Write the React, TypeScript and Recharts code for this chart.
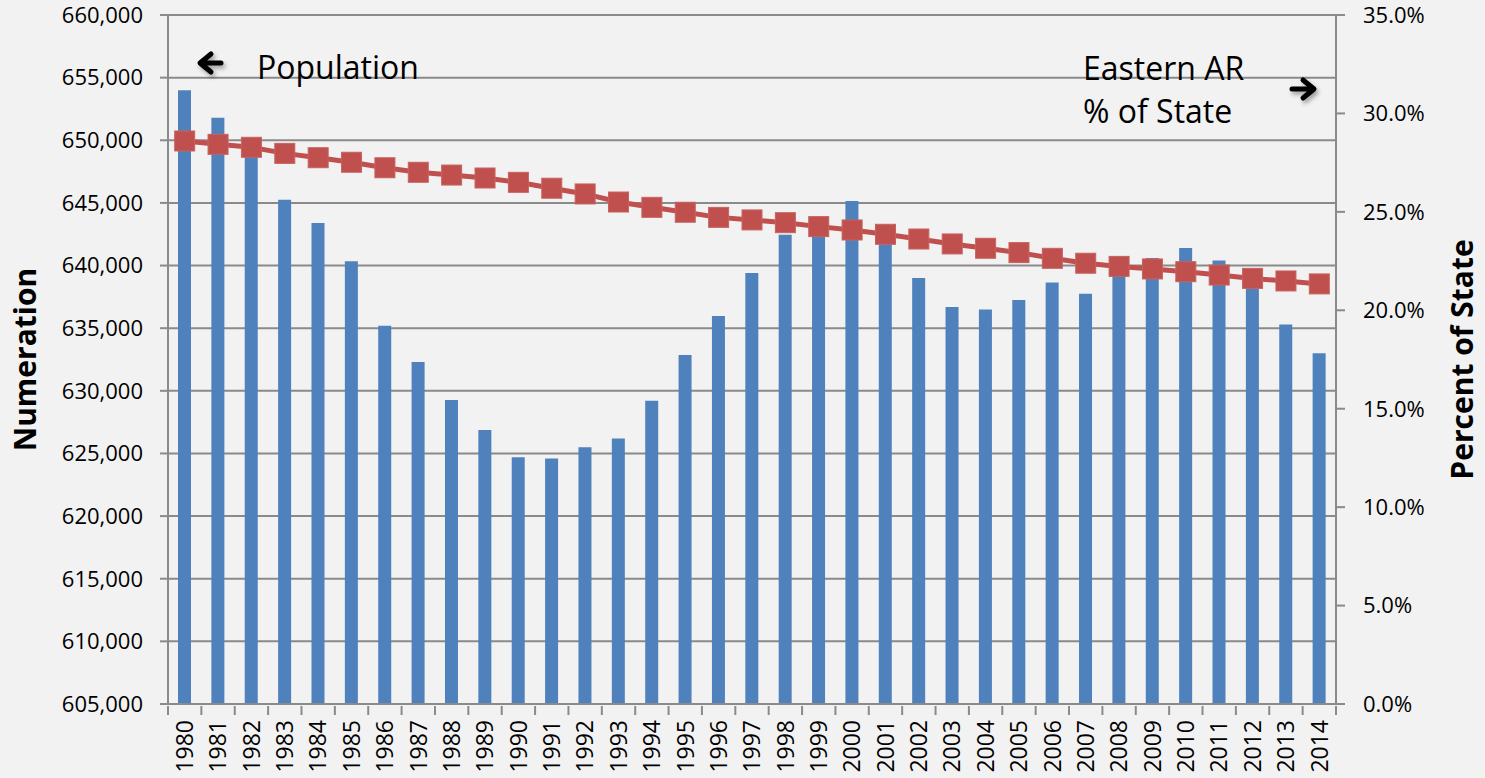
import React from "react";
import { ComposedChart, Bar, Line, XAxis, YAxis, CartesianGrid } from "recharts";

const years = [
  "1980", "1981", "1982", "1983", "1984", "1985", "1986", "1987", "1988", "1989",
  "1990", "1991", "1992", "1993", "1994", "1995", "1996", "1997", "1998", "1999",
  "2000", "2001", "2002", "2003", "2004", "2005", "2006", "2007", "2008", "2009",
  "2010", "2011", "2012", "2013", "2014",
];

const population = [
  654000, 651800, 649400, 645250, 643400, 640350, 635200, 632300, 629270, 626870,
  624700, 624600, 625500, 626200, 629200, 632850, 635970, 639400, 642450, 643000,
  645150, 642300, 639000, 636700, 636500, 637250, 638650, 637750, 639800, 640600,
  641400, 640400, 638900, 635300, 633000,
];

const percentOfState = [
  28.6, 28.43, 28.28, 27.97, 27.75, 27.52, 27.24, 27.01, 26.87, 26.72,
  26.5, 26.2, 25.91, 25.5, 25.23, 24.98, 24.72, 24.59, 24.45, 24.25,
  24.08, 23.86, 23.62, 23.37, 23.15, 22.93, 22.64, 22.39, 22.23, 22.1,
  21.96, 21.79, 21.62, 21.49, 21.34,
];

const leftTicks = [605000, 610000, 615000, 620000, 625000, 630000, 635000, 640000, 645000, 650000, 655000, 660000];
const rightTicks = [0, 5, 10, 15, 20, 25, 30, 35];

const data = years.map((year, i) => ({
  year,
  population: population[i],
  pct: percentOfState[i],
}));

const FONT = "'Open Sans', 'DejaVu Sans', sans-serif";
const GRID = "#8a8a8a";
const BLUE = "#4f81bd";
const RED = "#c0504d";

const YearTick = (props: any) => {
  const { x, y, payload, index } = props;
  const half = payload && payload.offset ? payload.offset : 0;
  return (
    <g>
      <line x1={x - half} y1={y} x2={x - half} y2={y + 9} stroke={GRID} strokeWidth={2} />
      {index === years.length - 1 && (
        <line x1={x + half} y1={y} x2={x + half} y2={y + 9} stroke={GRID} strokeWidth={2} />
      )}
      <text
        x={x}
        y={y + 14}
        transform={`rotate(-90, ${x}, ${y + 14})`}
        textAnchor="end"
        dy="0.36em"
        fontSize={23}
        fontFamily={FONT}
        fill="#000"
      >
        {payload.value}
      </text>
    </g>
  );
};

const SquareDot = (props: any) => {
  const { cx, cy } = props;
  if (cx == null || cy == null) return null;
  return <rect x={cx - 10} y={cy - 10} width={20} height={20} fill={RED} stroke="#c8625f" strokeWidth={1} />;
};

const App = () => {
  return (
    <div style={{ position: "absolute", left: 0, top: 0, width: 1485, height: 778, background: "#f2f2f2", fontFamily: FONT }}>
      <ComposedChart width={1485} height={778} data={data} margin={{ top: 15, right: 0, bottom: 0, left: 0 }}>
        <CartesianGrid yAxisId="left" vertical={false} stroke={GRID} strokeWidth={2} />
        <XAxis
          dataKey="year"
          height={74}
          tickSize={0}
          tickLine={false}
          interval={0}
          axisLine={{ stroke: GRID, strokeWidth: 2 }}
          tick={<YearTick />}
        />
        <YAxis
          yAxisId="left"
          width={168}
          domain={[605000, 660000]}
          ticks={leftTicks}
          interval={0}
          tickSize={8}
          tickMargin={17}
          tick={{ fontSize: 22, fill: "#000", fontFamily: FONT }}
          tickLine={{ stroke: GRID, strokeWidth: 2 }}
          axisLine={{ stroke: GRID, strokeWidth: 2 }}
          tickFormatter={(v: number) => v.toLocaleString("en-US")}
          label={{
            content: (p: any) => {
              const vb = p.viewBox;
              const cy = vb.y + vb.height / 2;
              return (
                <text x={25} y={cy} transform={`rotate(-90, 25, ${cy})`} textAnchor="middle" dy="0.36em" fontSize={30} fontWeight="bold" fontFamily={FONT} fill="#000">
                  Numeration
                </text>
              );
            },
          }}
        />
        <YAxis
          yAxisId="right"
          orientation="right"
          width={149}
          domain={[0, 35]}
          ticks={rightTicks}
          interval={0}
          tickSize={9}
          tickMargin={18}
          tick={{ fontSize: 22, fill: "#000", fontFamily: FONT }}
          tickLine={{ stroke: GRID, strokeWidth: 2 }}
          axisLine={{ stroke: GRID, strokeWidth: 2 }}
          tickFormatter={(v: number) => v.toFixed(1) + "%"}
          label={{
            content: (p: any) => {
              const vb = p.viewBox;
              const cy = vb.y + vb.height / 2;
              const cx = vb.x + 126;
              return (
                <text x={cx} y={cy} transform={`rotate(-90, ${cx}, ${cy})`} textAnchor="middle" dy="0.36em" fontSize={30} fontWeight="bold" fontFamily={FONT} fill="#000">
                  Percent of State
                </text>
              );
            },
          }}
        />
        <Bar yAxisId="left" dataKey="population" fill={BLUE} barSize={13} isAnimationActive={false} />
        <Line
          yAxisId="right"
          dataKey="pct"
          stroke={RED}
          strokeWidth={5}
          dot={<SquareDot />}
          activeDot={false}
          isAnimationActive={false}
        />
      </ComposedChart>
      <svg width={1485} height={778} style={{ position: "absolute", left: 0, top: 0, pointerEvents: "none" }}>
        <defs>
          <filter id="arrowShadow" x="-50%" y="-50%" width="200%" height="200%">
            <feDropShadow dx="2" dy="3" stdDeviation="2" floodColor="#000" floodOpacity="0.35" />
          </filter>
        </defs>
        <g filter="url(#arrowShadow)" stroke="#000" strokeWidth={5} fill="none" strokeLinecap="round" strokeLinejoin="round">
          <path d="M 221 63 L 201 63 M 211 54 L 200 63 L 211 72" />
          <path d="M 1292 89 L 1313 89 M 1303 80 L 1314 89 L 1303 98" />
        </g>
        <text x={257} y={79} fontSize={32} fontFamily={FONT} fill="#000">Population</text>
        <text x={1083} y={80} fontSize={32} fontFamily={FONT} fill="#000">Eastern AR</text>
        <text x={1083} y={123} fontSize={32} fontFamily={FONT} fill="#000">% of State</text>
      </svg>
    </div>
  );
};

export default App;
